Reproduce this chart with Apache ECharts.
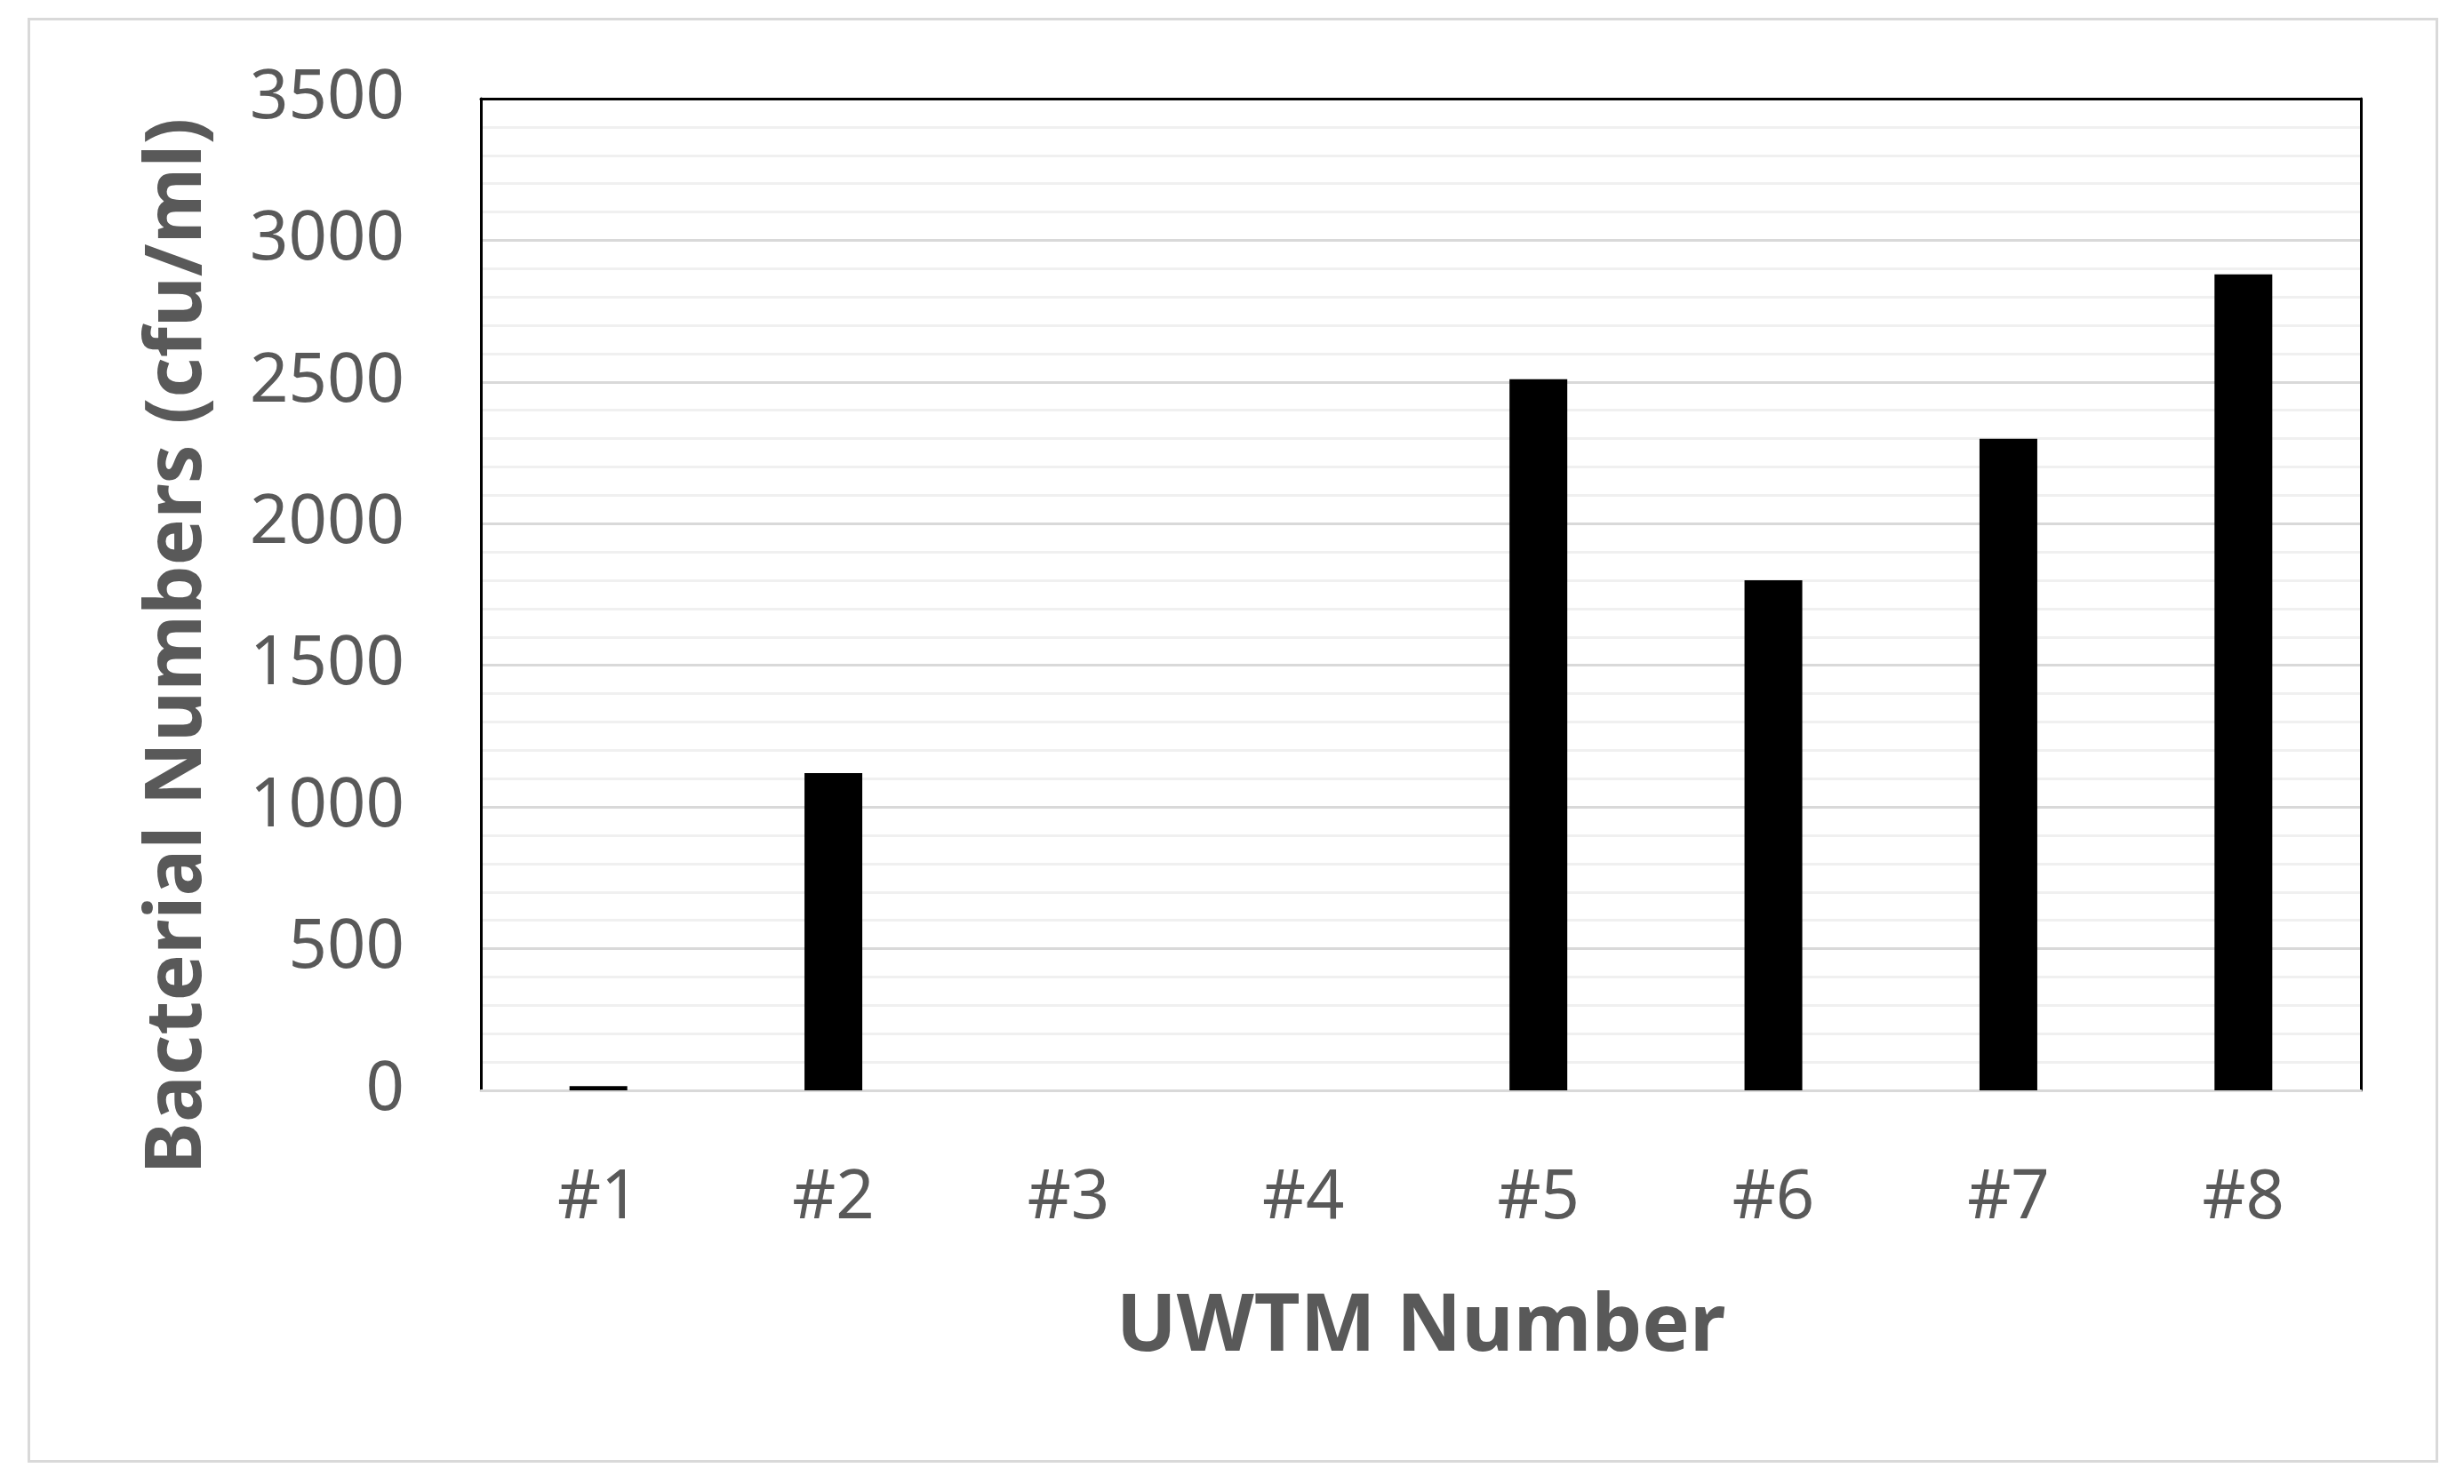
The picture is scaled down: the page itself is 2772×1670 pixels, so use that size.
<!DOCTYPE html>
<html>
<head>
<meta charset="utf-8">
<script src="https://cdn.jsdelivr.net/npm/echarts@6/dist/echarts.min.js"></script>
<style>
  html, body { margin: 0; padding: 0; background: #fff; }
  #chart { width: 2772px; height: 1670px; }
  .frame {
    position: absolute;
    left: 31px; top: 20px;
    width: 2706px; height: 1620px;
    border: 3px solid #d9d9d9;
    pointer-events: none;
  }
</style>
</head>
<body>
<div id="chart"></div>
<div class="frame"></div>
<script>
// data
const categories = ['#1', '#2', '#3', '#4', '#5', '#6', '#7', '#8'];
const counts = [15, 1120, 0, 0, 2510, 1800, 2300, 2880];
const yMax = 3500;
const yStep = 500;

const chart = echarts.init(document.getElementById('chart'));

const labelColor = '#595959';
const font = '"Noto Sans", "Open Sans", sans-serif';

const option = {
  backgroundColor: '#fff',
  animation: false,
  grid: {
    left: 541,
    right: 116,
    top: 111,
    bottom: 443
  },
  xAxis: [
    {
      type: 'category',
      data: categories,
      boundaryGap: true,
      axisTick: { show: false },
      axisLine: { onZero: false, lineStyle: { color: '#d9d9d9', width: 3 } },
      axisLabel: {
        color: labelColor,
        fontFamily: font,
        fontSize: 76,
        margin: 84
      },
      name: 'UWTM Number',
      nameLocation: 'middle',
      nameGap: 222,
      nameTextStyle: {
        color: labelColor,
        fontFamily: font,
        fontSize: 90,
        fontWeight: 'bold'
      }
    },
    {
      // top frame line only
      type: 'category',
      data: categories,
      position: 'top',
      axisTick: { show: false },
      axisLabel: { show: false },
      axisLine: { onZero: false, lineStyle: { color: '#000', width: 3 } }
    }
  ],
  yAxis: [
    {
      type: 'value',
      min: 0,
      max: yMax,
      interval: yStep,
      axisLine: { show: true, onZero: false, lineStyle: { color: '#000', width: 3 } },
      axisTick: { show: false },
      axisLabel: {
        color: labelColor,
        fontFamily: font,
        fontSize: 76,
        margin: 86,
        formatter: v => String(v)
      },
      splitLine: { lineStyle: { color: '#d9d9d9', width: 3 } },
      minorTick: { show: false, splitNumber: 5 },
      minorSplitLine: { show: true, lineStyle: { color: '#f0f0f0', width: 3 } },
      name: 'Bacterial Numbers (cfu/ml)',
      nameLocation: 'middle',
      nameGap: 296,
      nameRotate: 90,
      nameTextStyle: {
        color: labelColor,
        fontFamily: font,
        fontSize: 88,
        fontWeight: 'bold',
        padding: [0, 116, 0, 0]
      }
    },
    {
      // right frame line only
      type: 'value',
      min: 0,
      max: yMax,
      interval: yStep,
      position: 'right',
      axisLine: { show: true, onZero: false, lineStyle: { color: '#000', width: 3 } },
      axisTick: { show: false },
      axisLabel: { show: false },
      splitLine: { show: false }
    }
  ],
  series: [
    {
      name: 'Bacterial Numbers',
      type: 'bar',
      data: counts,
      barWidth: 65,
      itemStyle: {
        color: '#000'
      }
    }
  ]
};

chart.setOption(option);
</script>
</body>
</html>
